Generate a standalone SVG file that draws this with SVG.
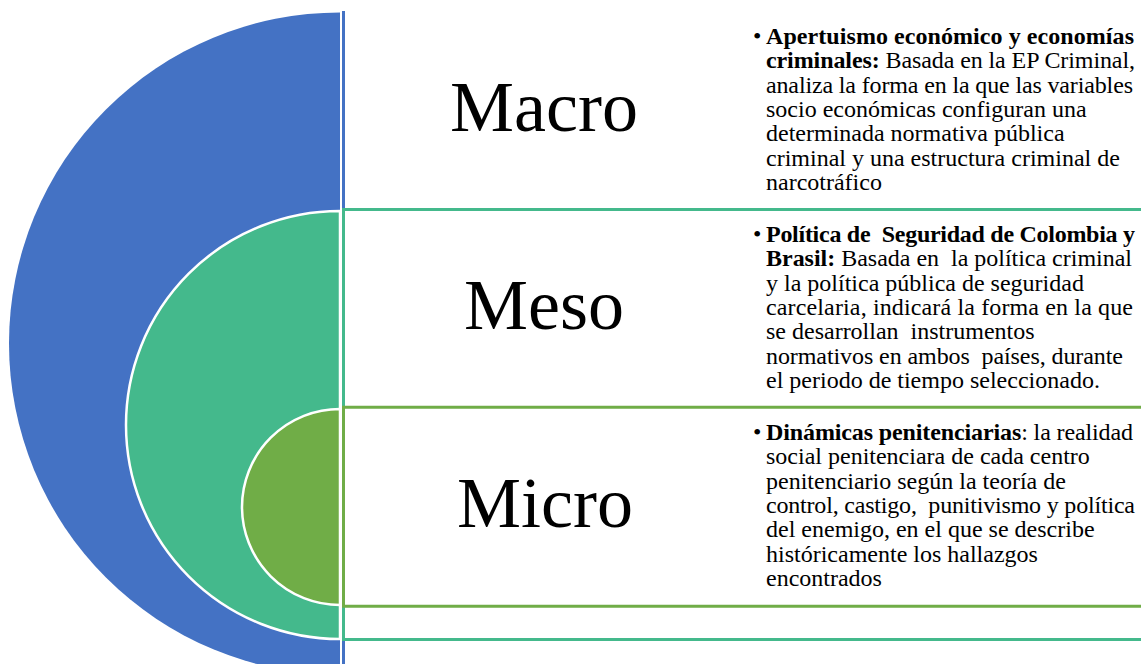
<svg xmlns="http://www.w3.org/2000/svg" width="1141" height="664" viewBox="0 0 1141 664">
<style>
.bg{fill:#ffffff}
.blue{fill:#4472C4}
.teal{fill:#44B98C}
.olive{fill:#70AD47}
.ring{stroke:#ffffff;stroke-width:2.5}
.lb{stroke:#4472C4;stroke-width:3;fill:none}
.lt{stroke:#44B98C;stroke-width:3;fill:none}
.lo{stroke:#70AD47;stroke-width:3;fill:none}
.big{font-family:"Liberation Serif","Times New Roman",serif;font-size:72px;fill:#000;text-anchor:middle}
.desc{font-family:"Liberation Serif","Times New Roman",serif;font-size:24px;fill:#000;white-space:pre}
.b{font-weight:bold}
</style>
<rect class="bg" x="0" y="0" width="1141" height="664"/>
<g id="shapes">
  <path id="arc-macro" class="blue" d="M340,12.5 A331,331 0 0 0 340,674.5 Z"/>
  <path id="arc-meso" class="teal ring" d="M340,211 A214,214 0 0 0 340,639 Z"/>
  <path id="arc-micro" class="olive ring" d="M340,409 A98,98 0 0 0 340,605 Z"/>
</g>
<g id="connectors">
  <line class="lb" x1="343.5" y1="11" x2="343.5" y2="664"/>
  <polyline class="lt" points="1141,209.5 343.5,209.5 343.5,639.5 1141,639.5"/>
  <polyline class="lo" points="1141,407.3 343.5,407.3 343.5,606.3 1141,606.3"/>
</g>
<g id="node-macro">
  <text class="big" x="544" y="131">Macro</text>
  <text class="desc" x="753" y="44">•</text>
  <text class="desc b" x="766" y="44" textLength="368" lengthAdjust="spacing">Apertuismo económico y economías</text>
  <text class="desc" x="766" y="68.3" textLength="369" lengthAdjust="spacing"><tspan class="b">criminales:</tspan> Basada en la EP Criminal,</text>
  <text class="desc" x="766" y="92.6" textLength="367" lengthAdjust="spacing">analiza la forma en la que las variables</text>
  <text class="desc" x="766" y="116.9">socio económicas configuran una</text>
  <text class="desc" x="766" y="141.2">determinada normativa pública</text>
  <text class="desc" x="766" y="165.5">criminal y una estructura criminal de</text>
  <text class="desc" x="766" y="189.8">narcotráfico</text>
</g>
<g id="node-meso">
  <text class="big" x="544" y="329">Meso</text>
  <text class="desc" x="753" y="242">•</text>
  <text class="desc b" x="766" y="242" textLength="369" lengthAdjust="spacing">Política de  Seguridad de Colombia y</text>
  <text class="desc" x="766" y="266.3" textLength="366" lengthAdjust="spacing"><tspan class="b">Brasil:</tspan> Basada en  la política criminal</text>
  <text class="desc" x="766" y="290.6">y la política pública de seguridad</text>
  <text class="desc" x="766" y="314.9" textLength="367" lengthAdjust="spacing">carcelaria, indicará la forma en la que</text>
  <text class="desc" x="766" y="339.2">se desarrollan  instrumentos</text>
  <text class="desc" x="766" y="363.5" textLength="357" lengthAdjust="spacing">normativos en ambos  países, durante</text>
  <text class="desc" x="766" y="387.8">el periodo de tiempo seleccionado.</text>
</g>
<g id="node-micro">
  <text class="big" x="545" y="527">Micro</text>
  <text class="desc" x="753" y="440">•</text>
  <text class="desc" x="766" y="440" textLength="367" lengthAdjust="spacing"><tspan class="b">Dinámicas penitenciarias</tspan>: la realidad</text>
  <text class="desc" x="766" y="464.3">social penitenciara de cada centro</text>
  <text class="desc" x="766" y="488.6">penitenciario según la teoría de</text>
  <text class="desc" x="766" y="512.9" textLength="369" lengthAdjust="spacing">control, castigo,  punitivismo y política</text>
  <text class="desc" x="766" y="537.2">del enemigo, en el que se describe</text>
  <text class="desc" x="766" y="561.5">históricamente los hallazgos</text>
  <text class="desc" x="766" y="585.8">encontrados</text>
</g>
</svg>
